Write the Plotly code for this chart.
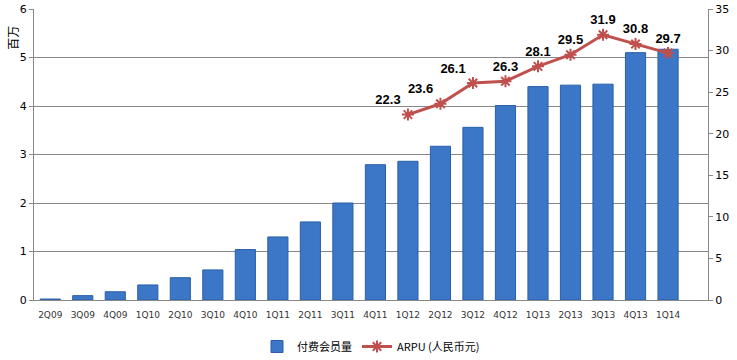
import plotly.graph_objects as go

quarters = ["2Q09","3Q09","4Q09","1Q10","2Q10","3Q10","4Q10","1Q11","2Q11","3Q11",
            "4Q11","1Q12","2Q12","3Q12","4Q12","1Q13","2Q13","3Q13","4Q13","1Q14"]
members = [0.02,0.09,0.17,0.31,0.46,0.62,1.04,1.30,1.61,2.00,
           2.79,2.86,3.17,3.56,4.01,4.40,4.43,4.45,5.10,5.17]
arpu_q = ["1Q12","2Q12","3Q12","4Q12","1Q13","2Q13","3Q13","4Q13","1Q14"]
arpu = [22.3,23.6,26.1,26.3,28.1,29.5,31.9,30.8,29.7]
label_pos = ["top left","top left","top left","top center","top center",
             "top center","top center","top center","top center"]

font = "Noto Sans CJK SC"

fig = go.Figure()
fig.add_trace(go.Bar(
    x=quarters, y=members, name="付费会员量",
    marker=dict(color="#3b77c6", line=dict(color="#2a5fa8", width=1)),
    yaxis="y"))
fig.add_trace(go.Scatter(
    x=arpu_q, y=arpu, name="ARPU (人民币元)", yaxis="y2",
    mode="lines+markers+text",
    line=dict(color="#c0504d", width=3),
    marker=dict(symbol="asterisk-open", size=10, color="#c0504d",
                line=dict(color="#c0504d", width=2)),
    text=[f"{v:.1f}" for v in arpu], textposition=label_pos,
    textfont=dict(family="Liberation Sans", size=13, color="#000000", weight="bold")))

fig.update_layout(
    width=737, height=360,
    margin=dict(l=34, r=29, t=9, b=60, autoexpand=False),
    paper_bgcolor="white", plot_bgcolor="white",
    bargap=0.38,
    font=dict(family=font, color="#333333"),
    showlegend=True,
    legend=dict(orientation="h", x=0.5, xanchor="center", y=-0.11, yanchor="top",
                font=dict(family=font, size=11, color="#000000")),
    xaxis=dict(type="category", categoryorder="array", categoryarray=quarters,
               showline=True, linecolor="#888888", ticks="", showgrid=False,
               automargin=False, ticklabelstandoff=6,
               tickfont=dict(family="DejaVu Sans", size=9, color="#333333")),
    yaxis=dict(range=[0, 6], dtick=1, showgrid=True, gridcolor="#888888", gridwidth=1,
               showline=True, linecolor="#888888", ticks="outside", ticklen=4,
               tickcolor="#888888", zeroline=False, automargin=False,
               tickfont=dict(family="DejaVu Sans", size=11, color="#000000")),
    yaxis2=dict(range=[0, 35], dtick=5, overlaying="y", side="right", showgrid=False,
                showline=True, linecolor="#888888", ticks="outside", ticklen=4,
                tickcolor="#888888", zeroline=False, automargin=False,
                tickfont=dict(family="DejaVu Sans", size=11, color="#000000")),
    annotations=[dict(text="百万", xref="paper", yref="paper", x=-0.033, y=0.9,
                      xanchor="center", yanchor="middle", textangle=-90, showarrow=False,
                      font=dict(family=font, size=12, color="#000000"))],
)

fig.write_html("out.html", config={"displayModeBar": False},
               post_script="document.body.style.margin='0';")
